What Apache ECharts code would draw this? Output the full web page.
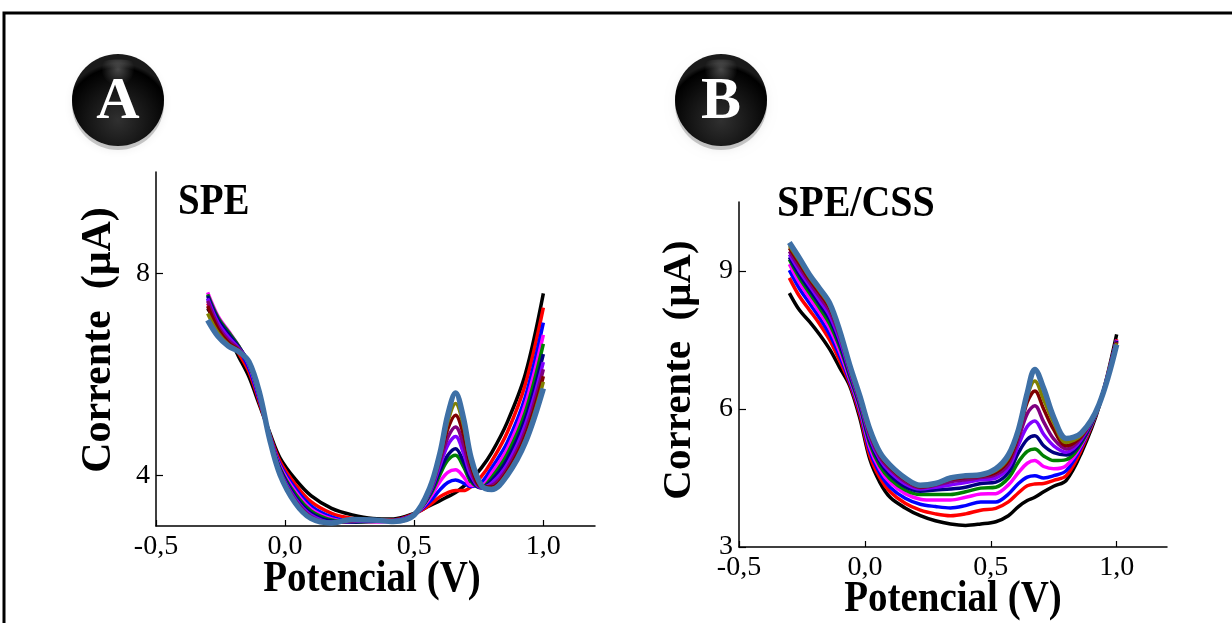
<!DOCTYPE html>
<html>
<head>
<meta charset="utf-8">
<script src="https://cdn.jsdelivr.net/npm/echarts@6/dist/echarts.min.js"></script>
<style>
html,body{margin:0;padding:0;background:#fff;}
#chart{width:1232px;height:623px;}
</style>
</head>
<body>
<div id="chart"></div>
<script>
// ---------- Panel A (SPE) ----------
const potentialA = [-0.30,-0.26,-0.22,-0.18,-0.14,-0.10,-0.06,-0.02,0.04,0.10,0.18,0.26,0.34,0.42,0.50,0.56,0.60,0.63,0.66,0.69,0.72,0.76,0.80,0.86,0.93,1.00];
const speBlack   = [7.30,7.00,6.75,6.35,5.95,5.40,4.85,4.35,3.92,3.60,3.35,3.22,3.15,3.14,3.25,3.40,3.50,3.58,3.66,3.78,3.92,4.15,4.45,5.05,6.00,7.60];
const speRed     = [7.40,7.05,6.78,6.42,6.05,5.45,4.82,4.28,3.82,3.48,3.25,3.15,3.12,3.12,3.24,3.42,3.58,3.66,3.70,3.70,3.78,3.98,4.28,4.85,5.80,7.32];
const speBlue    = [7.50,7.10,6.82,6.50,6.12,5.50,4.80,4.22,3.74,3.40,3.18,3.10,3.10,3.11,3.23,3.48,3.72,3.86,3.91,3.85,3.78,3.86,4.15,4.65,5.55,7.02];
const speMagenta = [7.62,7.15,6.86,6.56,6.18,5.55,4.78,4.18,3.68,3.34,3.14,3.08,3.08,3.10,3.22,3.55,3.88,4.06,4.11,3.98,3.80,3.80,4.05,4.52,5.40,6.78];
const speGreen   = [7.58,7.12,6.84,6.56,6.20,5.58,4.77,4.15,3.63,3.30,3.12,3.08,3.09,3.10,3.22,3.60,4.02,4.30,4.40,4.18,3.88,3.76,3.96,4.42,5.25,6.60];
const speNavy    = [7.55,7.08,6.80,6.54,6.22,5.60,4.76,4.12,3.58,3.26,3.10,3.08,3.10,3.10,3.21,3.63,4.10,4.40,4.53,4.28,3.92,3.75,3.90,4.32,5.12,6.40];
const speViolet  = [7.50,7.02,6.74,6.52,6.24,5.62,4.75,4.09,3.54,3.22,3.08,3.09,3.11,3.10,3.21,3.66,4.20,4.60,4.77,4.45,4.00,3.76,3.85,4.22,5.00,6.24];
const spePurple  = [7.45,6.96,6.68,6.50,6.24,5.63,4.74,4.07,3.51,3.19,3.07,3.10,3.12,3.09,3.21,3.68,4.28,4.75,4.96,4.62,4.08,3.77,3.80,4.14,4.88,6.10];
const speMaroon  = [7.35,6.90,6.63,6.48,6.25,5.64,4.73,4.05,3.48,3.17,3.06,3.11,3.12,3.09,3.21,3.71,4.36,4.92,5.19,4.82,4.18,3.78,3.77,4.08,4.78,5.96];
const speOlive   = [7.20,6.82,6.59,6.46,6.25,5.65,4.72,4.03,3.46,3.16,3.06,3.12,3.12,3.09,3.21,3.73,4.40,5.06,5.42,5.00,4.27,3.79,3.74,4.03,4.70,5.85];
const speSteel   = [7.07,6.75,6.56,6.45,6.25,5.65,4.72,4.02,3.45,3.15,3.06,3.13,3.12,3.09,3.22,3.75,4.45,5.20,5.63,5.15,4.35,3.80,3.72,4.00,4.65,5.72];

// ---------- Panel B (SPE/CSS) ----------
const potentialB = [-0.30,-0.26,-0.22,-0.18,-0.14,-0.10,-0.06,-0.02,0.02,0.06,0.10,0.16,0.22,0.28,0.34,0.40,0.46,0.52,0.57,0.61,0.645,0.675,0.71,0.75,0.80,0.86,0.93,1.00];
const cssBlack   = [8.52,8.15,7.90,7.62,7.30,6.90,6.50,5.80,4.90,4.40,4.08,3.85,3.68,3.57,3.50,3.47,3.50,3.55,3.68,3.88,4.01,4.08,4.20,4.32,4.45,5.05,6.05,7.62];
const cssRed     = [8.85,8.45,8.15,7.85,7.50,7.05,6.55,5.88,4.98,4.50,4.20,3.95,3.80,3.72,3.68,3.72,3.80,3.84,3.98,4.18,4.33,4.37,4.38,4.45,4.55,5.12,6.08,7.52];
const cssBlue    = [9.02,8.62,8.30,7.98,7.62,7.15,6.60,5.95,5.08,4.60,4.30,4.06,3.93,3.88,3.85,3.90,3.98,3.98,4.15,4.38,4.52,4.55,4.50,4.55,4.66,5.18,6.08,7.50];
const cssMagenta = [9.15,8.75,8.42,8.10,7.75,7.25,6.65,6.00,5.16,4.68,4.40,4.16,4.04,4.02,4.02,4.08,4.15,4.16,4.35,4.62,4.82,4.88,4.75,4.70,4.77,5.22,6.08,7.50];
const cssGreen   = [9.25,8.85,8.52,8.20,7.85,7.35,6.70,6.05,5.24,4.76,4.48,4.24,4.14,4.14,4.14,4.20,4.28,4.30,4.50,4.85,5.08,5.13,4.98,4.88,4.90,5.26,6.08,7.48];
const cssNavy    = [9.30,8.92,8.60,8.28,7.95,7.42,6.75,6.10,5.30,4.84,4.56,4.31,4.21,4.24,4.26,4.30,4.38,4.41,4.62,5.05,5.34,5.42,5.20,5.05,5.00,5.30,6.09,7.48];
const cssViolet  = [9.36,9.00,8.68,8.36,8.03,7.50,6.80,6.14,5.36,4.90,4.63,4.37,4.26,4.30,4.35,4.40,4.46,4.50,4.72,5.22,5.62,5.74,5.45,5.20,5.06,5.34,6.10,7.46];
const cssPurple  = [9.43,9.08,8.75,8.44,8.12,7.58,6.85,6.18,5.42,4.95,4.69,4.42,4.29,4.34,4.42,4.46,4.51,4.57,4.80,5.35,5.90,6.07,5.72,5.35,5.13,5.38,6.10,7.46];
const cssMaroon  = [9.50,9.16,8.82,8.52,8.20,7.64,6.88,6.21,5.47,5.00,4.73,4.46,4.31,4.36,4.47,4.51,4.54,4.62,4.88,5.45,6.15,6.39,6.00,5.55,5.20,5.41,6.10,7.45];
const cssOlive   = [9.55,9.22,8.87,8.57,8.25,7.67,6.92,6.24,5.51,5.03,4.76,4.48,4.33,4.37,4.49,4.54,4.56,4.66,4.94,5.50,6.28,6.61,6.20,5.70,5.27,5.44,6.10,7.43];
const cssSteel   = [9.62,9.28,8.92,8.62,8.30,7.70,6.95,6.28,5.55,5.05,4.78,4.50,4.34,4.38,4.50,4.55,4.57,4.70,5.00,5.55,6.35,6.86,6.45,5.82,5.36,5.48,6.10,7.40];

// ---------- Ticks / labels ----------
const xTicks  = [-0.5, 0, 0.5, 1.0];
const yTicksA = [4, 8];
const yTicksB = [3, 6, 9];
const panelTitles = ['SPE', 'SPE/CSS'];
const panelLetters = ['A', 'B'];
const xTitle = 'Potencial (V)';
const yTitle = 'Corrente  (\u03bcA)';

const seriesColors = ['#000000','#FF0000','#0000FF','#FF00FF','#008000','#000080','#8000FF','#800080','#800000','#808000','#3E70A6'];
const seriesA = [speBlack, speRed, speBlue, speMagenta, speGreen, speNavy, speViolet, spePurple, speMaroon, speOlive, speSteel];
const seriesB = [cssBlack, cssRed, cssBlue, cssMagenta, cssGreen, cssNavy, cssViolet, cssPurple, cssMaroon, cssOlive, cssSteel];

const FONT = '"Liberation Serif", "Times New Roman", serif';

function makeSeries(xs, ys, idx, gi) {
  return {
    type: 'line', xAxisIndex: gi, yAxisIndex: gi,
    data: xs.map((x, i) => [x, ys[i]]),
    symbol: 'none', showSymbol: false, smooth: 0.35, silent: true,
    lineStyle: { color: seriesColors[idx], width: idx === 10 ? 5.5 : 3.5 },
    z: 2 + idx
  };
}

const fmt = v => v.toFixed(1).replace('.', ',');

function xAxisCfg(gi) {
  return {
    type: 'value', gridIndex: gi, min: -0.5, max: 1.2, interval: 0.5,
    axisLine: { show: true, onZero: false, lineStyle: { color: '#000', width: 1.5 } },
    axisTick: { show: true, inside: true, length: 6, customValues: xTicks, lineStyle: { color: '#000', width: 1.2 } },
    axisLabel: { customValues: xTicks, formatter: fmt, fontFamily: FONT, fontSize: 28, color: '#000', margin: 7 },
    splitLine: { show: false }
  };
}
function yAxisCfg(gi, min, max, ticks) {
  return {
    type: 'value', gridIndex: gi, min: min, max: max,
    axisLine: { show: true, onZero: false, lineStyle: { color: '#000', width: 1.5 } },
    axisTick: { show: true, inside: true, length: 7, customValues: ticks, lineStyle: { color: '#000', width: 1.2 } },
    axisLabel: { customValues: ticks, formatter: v => String(v), fontFamily: FONT, fontSize: 28, color: '#000', margin: 6 },
    splitLine: { show: false }
  };
}

function sphere(cx, cy, r, letter) {
  return {
    type: 'group', children: [
      { type: 'circle', shape: { cx: cx, cy: cy + 4, r: r },
        style: { fill: 'rgba(0,0,0,0.2)', shadowBlur: 10, shadowColor: 'rgba(0,0,0,0.35)' } },
      { type: 'circle', shape: { cx: cx, cy: cy, r: r },
        style: { fill: { type: 'radial', x: 0.5, y: 0.72, r: 0.62,
          colorStops: [{ offset: 0, color: '#303030' }, { offset: 0.6, color: '#111' }, { offset: 0.92, color: '#000' }, { offset: 1, color: '#1a1a1a' }] } } },
      { type: 'ellipse', shape: { cx: cx, cy: cy - r * 0.58, rx: r * 0.66, ry: r * 0.3 },
        style: { fill: { type: 'radial', x: 0.5, y: 0.35, r: 0.6,
          colorStops: [{ offset: 0, color: 'rgba(255,255,255,0.28)' }, { offset: 1, color: 'rgba(255,255,255,0)' }] } } },
      { type: 'text', x: cx, y: cy + 2,
        style: { text: letter, font: 'bold 60px ' + FONT, fill: '#fff', align: 'center', verticalAlign: 'middle' } }
    ]
  };
}

function txt(x, y, s, size, opts) {
  return Object.assign({
    type: 'text', x: x, y: y, z: 50,
    style: { text: s, font: 'bold ' + size + 'px ' + FONT, fill: '#000', align: 'center', verticalAlign: 'middle' }
  }, opts || {});
}

const chart = echarts.init(document.getElementById('chart'), null, { renderer: 'canvas' });
chart.setOption({
  animation: false,
  backgroundColor: '#fff',
  grid: [
    { left: 156, top: 172, width: 439, height: 354 },
    { left: 739, top: 202, width: 428, height: 345 }
  ],
  xAxis: [xAxisCfg(0), xAxisCfg(1)],
  yAxis: [yAxisCfg(0, 3, 10, yTicksA), yAxisCfg(1, 3, 10.5, yTicksB)],
  series: seriesA.map((ys, i) => makeSeries(potentialA, ys, i, 0))
    .concat(seriesB.map((ys, i) => makeSeries(potentialB, ys, i, 1))),
  graphic: [
    { type: 'rect', shape: { x: 4, y: 13, width: 1300, height: 700 }, style: { fill: 'none', stroke: '#000', lineWidth: 3 } },
    sphere(118, 100, 46, panelLetters[0]),
    sphere(721, 100, 46, panelLetters[1]),
    txt(178, 203, panelTitles[0], 39, { scaleY: 1.12, style: { text: panelTitles[0], font: 'bold 39px ' + FONT, fill: '#000', align: 'left', verticalAlign: 'middle' } }),
    txt(777, 204, panelTitles[1], 40, { scaleY: 1.12, style: { text: panelTitles[1], font: 'bold 40px ' + FONT, fill: '#000', align: 'left', verticalAlign: 'middle' } }),
    txt(372, 580, xTitle, 39, { scaleY: 1.12 }),
    txt(953, 600, xTitle, 39, { scaleY: 1.12 }),
    txt(99, 340, yTitle, 42, { rotation: Math.PI / 2 }),
    txt(679, 370, yTitle, 41, { rotation: Math.PI / 2 })
  ]
});
</script>
</body>
</html>
